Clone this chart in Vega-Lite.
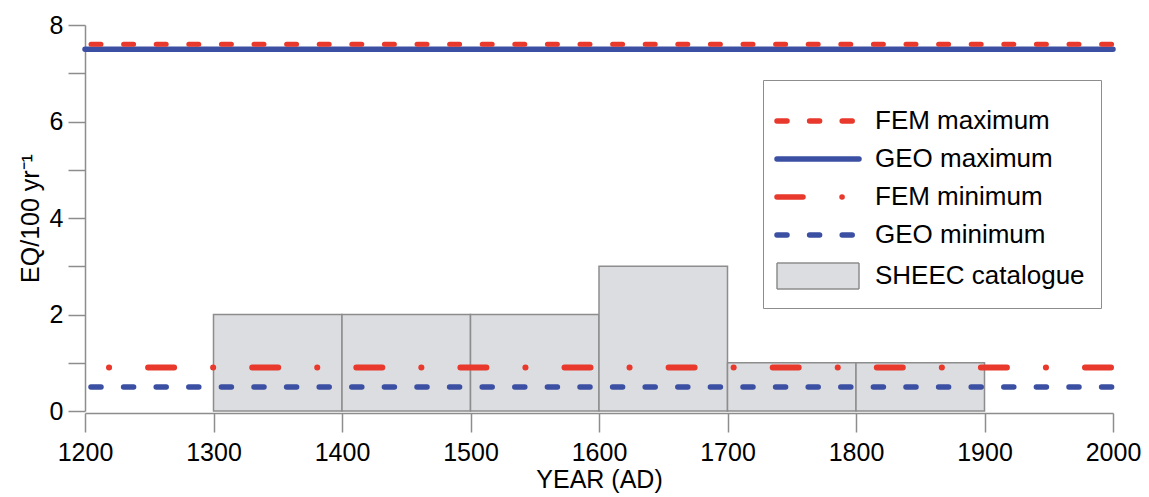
{
  "$schema": "https://vega.github.io/schema/vega-lite/v6.json",
  "width": 1028,
  "height": 386,
  "autosize": {"type": "none"},
  "padding": {"left": 85, "top": 25, "right": 36, "bottom": 86},
  "background": "white",
  "datasets": {
    "hist": [
      {"start": 1300, "end": 1400, "count": 2},
      {"start": 1400, "end": 1500, "count": 2},
      {"start": 1500, "end": 1600, "count": 2},
      {"start": 1600, "end": 1700, "count": 3},
      {"start": 1700, "end": 1800, "count": 1},
      {"start": 1800, "end": 1900, "count": 1}
    ],
    "lines": [
      {"series": "FEM maximum", "year": 1200, "value": 7.6},
      {"series": "FEM maximum", "year": 2000, "value": 7.6},
      {"series": "GEO maximum", "year": 1200, "value": 7.5},
      {"series": "GEO maximum", "year": 2000, "value": 7.5},
      {"series": "FEM minimum", "year": 1200, "value": 0.9},
      {"series": "FEM minimum", "year": 2000, "value": 0.9},
      {"series": "GEO minimum", "year": 1200, "value": 0.5},
      {"series": "GEO minimum", "year": 2000, "value": 0.5}
    ]
  },
  "config": {
    "view": {"stroke": null},
    "axis": {
      "grid": false,
      "domainColor": "#8d8d8d",
      "tickColor": "#8d8d8d",
      "domainWidth": 1.5,
      "tickWidth": 1.5,
      "labelFont": "Liberation Sans",
      "titleFont": "Liberation Sans",
      "labelFontSize": 25,
      "titleFontSize": 25,
      "titleFontWeight": "normal",
      "labelColor": "black",
      "titleColor": "black",
      "labelFlush": false,
      "labelOverlap": false
    },
    "legend": {
      "orient": "none",
      "legendX": 678,
      "legendY": 55,
      "symbolSize": 625,
      "symbolStrokeWidth": 5.5,
      "symbolOffset": 26,
      "labelOffset": 44,
      "labelFont": "Liberation Sans",
      "labelFontSize": 26,
      "labelColor": "black",
      "labelLimit": 400,
      "rowPadding": 12,
      "padding": 16,
      "strokeColor": "#8d8d8d",
      "fillColor": "white",
      "titleFontSize": 6,
      "titlePadding": 6
    }
  },
  "layer": [
    {
      "data": {"name": "hist"},
      "mark": {"type": "rect", "fill": "#dcdde0", "stroke": "#8d8d8d", "strokeWidth": 1.5},
      "encoding": {
        "x": {
          "field": "start", "type": "quantitative",
          "scale": {"domain": [1200, 2000], "nice": false, "zero": false},
          "axis": {
            "values": [1200, 1300, 1400, 1500, 1600, 1700, 1800, 1900, 2000],
            "format": "d",
            "title": "YEAR (AD)",
            "tickSize": 19,
            "labelPadding": 8,
            "offset": 2,
            "titlePadding": 2
          }
        },
        "x2": {"field": "end"},
        "y": {
          "field": "count", "type": "quantitative",
          "scale": {"domain": [0, 8], "nice": false},
          "axis": {
            "values": [0, 1, 2, 3, 4, 5, 6, 7, 8],
            "labelExpr": "datum.value % 2 === 0 ? datum.label : ''",
            "title": "EQ/100 yr⁻¹",
            "tickSize": 17,
            "labelPadding": 5,
            "titlePadding": 6
          }
        },
        "y2": {"datum": 0}
      }
    },
    {
      "data": {"name": "lines"},
      "transform": [{"filter": "datum.series === 'GEO minimum'"}],
      "mark": {"type": "line", "strokeWidth": 5.5, "strokeCap": "round", "strokeDashOffset": 26.6},
      "encoding": {
        "x": {"field": "year", "type": "quantitative", "scale": {"domain": [1200, 2000], "nice": false, "zero": false}},
        "y": {"field": "value", "type": "quantitative", "scale": {"domain": [0, 8], "nice": false}},
        "color": {
          "field": "series", "type": "nominal",
          "scale": {"domain": ["FEM maximum", "GEO maximum", "FEM minimum", "GEO minimum", "SHEEC catalogue"], "range": ["#e8392c", "#3b4fa3", "#e8392c", "#3b4fa3", "#8d8d8d"]},
          "legend": {
            "title": " ",
            "encode": {
              "symbols": {
                "update": {
                  "shape": {"signal": "datum.value === 'SHEEC catalogue' ? 'M-3.28,-1.04H3.28V1.04H-3.28Z' : 'M-3.28,0H3.28'"},
                  "fill": {"signal": "datum.value === 'SHEEC catalogue' ? '#dcdde0' : 'transparent'"},
                  "strokeWidth": {"signal": "datum.value === 'SHEEC catalogue' ? 1.5 : 5.5"},
                  "strokeCap": {"signal": "datum.value === 'SHEEC catalogue' ? 'butt' : 'round'"},
                  "opacity": {"value": 1}
                }
              }
            }
          }
        },
        "strokeDash": {
          "field": "series", "type": "nominal",
          "scale": {"domain": ["FEM maximum", "GEO maximum", "FEM minimum", "GEO minimum", "SHEEC catalogue"], "range": [[10, 22.6], [1, 0], [26, 39, 0.1, 39], [10, 22.6], [1, 0]]},
          "legend": {"title": " "}
        }
      }
    },
    {
      "data": {"name": "lines"},
      "transform": [{"filter": "datum.series === 'FEM minimum'"}],
      "mark": {"type": "line", "strokeWidth": 6, "strokeCap": "round", "strokeDashOffset": 41},
      "encoding": {
        "x": {"field": "year", "type": "quantitative"},
        "y": {"field": "value", "type": "quantitative"},
        "color": {"field": "series", "type": "nominal"},
        "strokeDash": {"field": "series", "type": "nominal"}
      }
    },
    {
      "data": {"name": "lines"},
      "transform": [{"filter": "datum.series === 'GEO maximum'"}],
      "mark": {"type": "line", "strokeWidth": 5.5, "strokeCap": "round"},
      "encoding": {
        "x": {"field": "year", "type": "quantitative"},
        "y": {"field": "value", "type": "quantitative"},
        "color": {"field": "series", "type": "nominal"},
        "strokeDash": {"field": "series", "type": "nominal"}
      }
    },
    {
      "data": {"name": "lines"},
      "transform": [{"filter": "datum.series === 'FEM maximum'"}],
      "mark": {"type": "line", "strokeWidth": 5, "strokeCap": "round", "strokeDashOffset": 26.6},
      "encoding": {
        "x": {"field": "year", "type": "quantitative"},
        "y": {"field": "value", "type": "quantitative"},
        "color": {"field": "series", "type": "nominal"},
        "strokeDash": {"field": "series", "type": "nominal"}
      }
    }
  ]
}
